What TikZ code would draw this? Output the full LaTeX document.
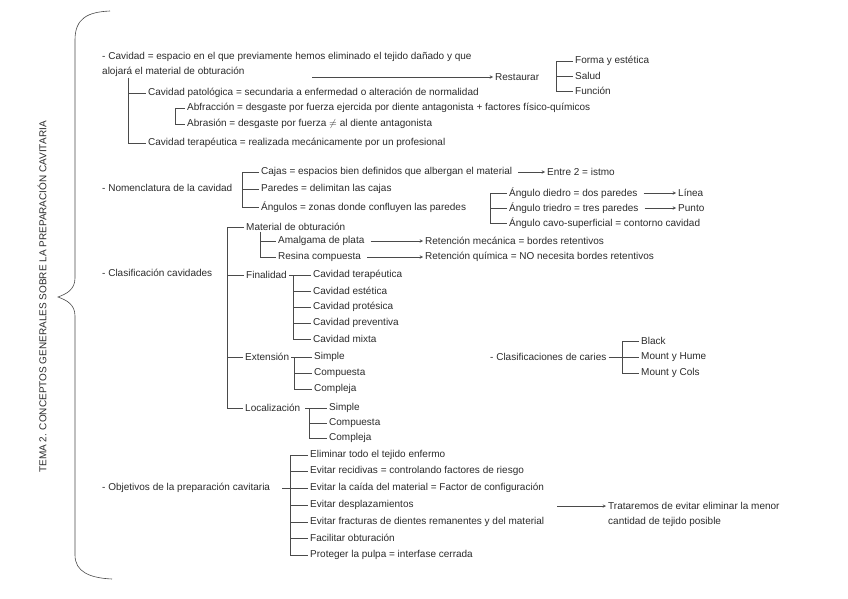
\documentclass[tikz,border=0pt]{standalone}
\usepackage{fontspec}
\setmainfont{Liberation Sans}
\usepackage{xcolor}
\definecolor{NoteInk}{HTML}{2B2B2B}
\definecolor{NoteLine}{HTML}{4A4A4A}

\begin{document}
\begin{tikzpicture}[
      x=1pt, y=-1pt,
      txt/.style={
        anchor=west,
        inner xsep=2pt,
        inner ysep=1pt,
        text=NoteInk,
        font=\fontsize{10}{12}\selectfont
      },
      branch/.style={line width=0.5pt,color=NoteLine},
      arrow/.style={-stealth,line width=0.5pt,color=NoteLine,shorten <=4pt},
      brace/.style={line width=0.6pt,color=NoteLine},
      title/.style={rotate=90,text=NoteInk,font=\fontsize{10}{12}\selectfont}
    ]
  \useasboundingbox (0,0) rectangle (848,599);

  % title and big brace
  \node[title] (tema) at (42,297) {TEMA 2. CONCEPTOS GENERALES SOBRE LA PREPARACIÓN CAVITARIA};
  \draw[brace] (110,11) .. controls (88,12) and (75,18) .. (75,40) -- (75,278)
    .. controls (75,290) and (66,294) .. (58,297)
    .. controls (66,300) and (75,304) .. (75,316) -- (75,555)
    .. controls (75,572) and (90,578) .. (112,579);

  % cavidad
  \node[txt] (def1) at (100,57) {- Cavidad = espacio en el que previamente hemos eliminado el tejido dañado y que};
  \node[txt] (def2) at (100,72) {alojará el material de obturación};
  \coordinate (resfrom) at (308,77);
  \node[txt] (rest) at (493,77) {Restaurar};
  \node[txt] (forma) at (573,61) {Forma y estética};
  \node[txt] (salud) at (573,76) {Salud};
  \node[txt] (func) at (573,91) {Función};
  \draw[arrow] (resfrom) -- (rest.west);
  \draw[branch] (forma.west) -- ++(-17,0) |- (func.west);
  \draw[branch] (salud.west) -- ++(-17,0);

  \node[txt] (pat) at (146,93) {Cavidad patológica = secundaria a enfermedad o alteración de normalidad};
  \node[txt] (abf) at (185,108) {Abfracción = desgaste por fuerza ejercida por diente antagonista + factores físico-químicos};
  \node[txt] (abr) at (185,124) {Abrasión = desgaste por fuerza $\neq$ al diente antagonista};
  \node[txt] (ter) at (146,143) {Cavidad terapéutica = realizada mecánicamente por un profesional};
  \draw[branch] ([xshift=28pt]def2.south west) |- (pat.west);
  \draw[branch] ([xshift=28pt]def2.south west) |- (ter.west);
  \draw[branch] (abf.west) -- ++(-10,0) |- (abr.west);

  % nomenclatura
  \node[txt] (nom) at (100,188) {- Nomenclatura de la cavidad};
  \node[txt] (caj) at (259,172) {Cajas = espacios bien definidos que albergan el material};
  \node[txt] (entre) at (545,172) {Entre 2 = istmo};
  \node[txt] (par) at (259,189) {Paredes = delimitan las cajas};
  \node[txt] (ang) at (259,207) {Ángulos = zonas donde confluyen las paredes};
  \draw[branch] (caj.west) -- ++(-17,0) |- (ang.west);
  \draw[branch] (par.west) -- ++(-17,0);
  \draw[arrow] (caj.east) -- (entre.west);

  \node[txt] (diedro) at (507,193) {Ángulo diedro = dos paredes};
  \node[txt] (linea) at (676,193) {Línea};
  \node[txt] (triedro) at (507,208) {Ángulo triedro = tres paredes};
  \node[txt] (punto) at (676,208) {Punto};
  \node[txt] (cavo) at (507,223) {Ángulo cavo-superficial = contorno cavidad};
  \draw[branch] (diedro.west) -- ++(-17,0) |- (cavo.west);
  \draw[branch] (triedro.west) -- ++(-17,0);
  \draw[arrow] (diedro.east) -- (linea.west);
  \draw[arrow] (triedro.east) -- (punto.west);

  % clasificacion
  \node[txt] (mat) at (244,227) {Material de obturación};
  \node[txt] (ama) at (276,241) {Amalgama de plata};
  \node[txt] (ret1) at (423,241) {Retención mecánica = bordes retentivos};
  \node[txt] (resina) at (276,257) {Resina compuesta};
  \node[txt] (ret2) at (423,257) {Retención química = NO necesita bordes retentivos};
  \draw[branch] ([xshift=16pt]mat.south west) |- (ama.west);
  \draw[branch] ([xshift=16pt]mat.south west) |- (resina.west);
  \draw[arrow] (ama.east) -- (ret1.west);
  \draw[arrow] (resina.east) -- (ret2.west);

  \node[txt] (clas) at (100,273) {- Clasificación cavidades};
  \node[txt] (fin) at (244,275) {Finalidad};
  \node[txt] (ct1) at (311,275) {Cavidad terapéutica};
  \node[txt] (ct2) at (311,291) {Cavidad estética};
  \node[txt] (ct3) at (311,307) {Cavidad protésica};
  \node[txt] (ct4) at (311,323) {Cavidad preventiva};
  \node[txt] (ct5) at (311,339) {Cavidad mixta};
  \draw[branch] (fin.east) -- (fin.east -| ct1.west);
  \draw[branch] ([xshift=-18pt]ct1.west) |- (ct5.west);
  \foreach \i in {2,3,4}
    \draw[branch] ([xshift=-18pt]ct\i.west) -- (ct\i.west);

  \node[txt] (ext) at (243,357) {Extensión};
  \node[txt] (ex1) at (312,357) {Simple};
  \node[txt] (ex2) at (312,373) {Compuesta};
  \node[txt] (ex3) at (312,389) {Compleja};
  \draw[branch] (ext.east) -- (ext.east -| ex1.west);
  \draw[branch] ([xshift=-18pt]ex1.west) |- (ex3.west);
  \draw[branch] ([xshift=-18pt]ex2.west) -- (ex2.west);

  \node[txt] (loc) at (243,408) {Localización};
  \node[txt] (lo1) at (327,408) {Simple};
  \node[txt] (lo2) at (327,423) {Compuesta};
  \node[txt] (lo3) at (327,438) {Compleja};
  \draw[branch] ([xshift=-22pt]lo1.west) -- (lo1.west);
  \draw[branch] ([xshift=-18pt]lo1.west) |- (lo3.west);
  \draw[branch] ([xshift=-18pt]lo2.west) -- (lo2.west);

  \draw[branch] (mat.west) -- ++(-17,0) |- (loc.west);
  \draw[branch] (fin.west) -- ++(-17,0);
  \draw[branch] (ext.west) -- ++(-16,0);

  % caries
  \node[txt] (car) at (488,357) {- Clasificaciones de caries};
  \node[txt] (bl) at (639,341) {Black};
  \node[txt] (mh) at (639,357) {Mount y Hume};
  \node[txt] (mc) at (639,373) {Mount y Cols};
  \draw[branch] (car.east) -- (mh.west);
  \draw[branch] (bl.west) -- ++(-17,0) |- (mc.west);

  % objetivos
  \node[txt] (obj) at (100,488) {- Objetivos de la preparación cavitaria};
  \node[txt] (o1) at (308,455) {Eliminar todo el tejido enfermo};
  \node[txt] (o2) at (308,471) {Evitar recidivas = controlando factores de riesgo};
  \node[txt] (o3) at (308,488) {Evitar la caída del material = Factor de configuración};
  \node[txt] (o4) at (308,505) {Evitar desplazamientos};
  \node[txt] (o5) at (308,522) {Evitar fracturas de dientes remanentes y del material};
  \node[txt] (o6) at (308,538) {Facilitar obturación};
  \node[txt] (o7) at (308,555) {Proteger la pulpa = interfase cerrada};
  \draw[branch] (o1.west) -- ++(-18,0) |- (o7.west);
  \draw[branch] ([xshift=-26pt]o3.west) -- (o3.west);
  \foreach \i in {2,4,5,6}
    \draw[branch] ([xshift=-18pt]o\i.west) -- (o\i.west);

  \coordinate (despfrom) at (553,506);
  \node[txt] (trat1) at (606,506) {Trataremos de evitar eliminar la menor};
  \node[txt] (trat2) at (606,522) {cantidad de tejido posible};
  \draw[arrow] (despfrom) -- (trat1.west);
\end{tikzpicture}
\end{document}
